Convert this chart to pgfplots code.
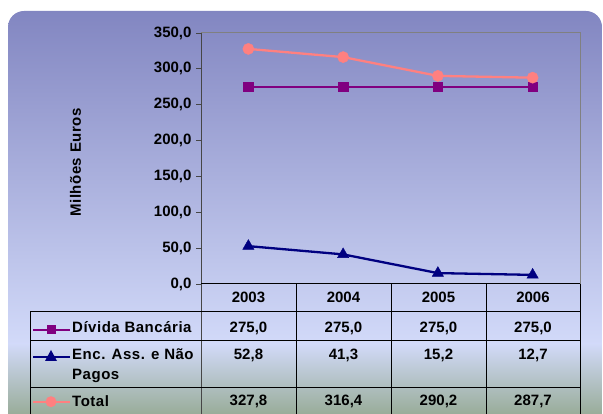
\documentclass[border=0pt]{standalone}
\usepackage{fontspec}
\setmainfont{Liberation Sans}
\newfontfamily\lbl[LetterSpace=3.5]{Liberation Sans}
\usepackage{pgfplots}
\pgfplotsset{compat=1.18}
\definecolor{divida}{RGB}{128,0,128}
\definecolor{enc}{RGB}{0,0,128}
\definecolor{total}{RGB}{255,128,128}
\definecolor{bgtop}{RGB}{130,134,193}
\definecolor{bgmid}{RGB}{210,218,249}
\definecolor{bgbot}{RGB}{152,172,152}
\definecolor{axgray}{RGB}{128,128,128}
\definecolor{axdark}{RGB}{70,70,70}
\begin{document}
\begin{tikzpicture}[x=1pt,y=1pt,
  tt/.style={font=\fontsize{15}{17}\selectfont\bfseries, inner sep=0pt},
  tl/.style={font=\fontsize{15}{17}\selectfont\lbl\bfseries, inner sep=0pt}]
\path[use as bounding box] (0,0) rectangle (603,414);
\begin{scope}
\clip[rounded corners=16pt] (8,-40) rectangle (602,403);
\shade[top color=bgtop, bottom color=bgmid] (0,70) rectangle (603,403);
\shade[top color=bgmid, bottom color=bgbot] (0,-1) rectangle (603,70.5);
\end{scope}
\begin{axis}[at={(201pt,130pt)}, anchor=south west, scale only axis,
  width=379pt, height=251pt,
  xmin=-0.5, xmax=3.5, ymin=0, ymax=350,
  ytick={0,50,...,350}, xtick=\empty,
  axis line style={draw=none},
  ytick pos=left, tick align=outside, major tick length=5pt,
  tick style={color=axdark, line width=0.8pt},
  yticklabel style={font=\fontsize{15}{17}\selectfont\bfseries, xshift=-1pt,
    /pgf/number format/.cd, fixed, fixed zerofill, precision=1, use comma,
    assume math mode=true},
  ylabel={Milhões Euros},
  ylabel style={at={(axis description cs:-0.331,0.484)}, anchor=center,
    font=\fontsize{15}{17}\selectfont\lbl\bfseries},
  clip=false]
\addplot[divida, line width=2.3pt, mark=square*, mark size=4.8pt,
  mark options={line width=0.4pt}]
  coordinates {(0,275.0) (1,275.0) (2,275.0) (3,275.0)};
\addplot[enc, line width=2.3pt, mark=triangle*, mark size=6.5pt,
  mark options={line width=0.4pt}]
  coordinates {(0,52.8) (1,41.3) (2,15.2) (3,12.7)};
\addplot[total, line width=2.3pt, mark=*, mark size=5.6pt,
  mark options={line width=0.4pt}]
  coordinates {(0,327.8) (1,316.4) (2,290.2) (3,287.7)};
\end{axis}
% plot frame
\draw[axgray, line width=1pt] (201,381) -- (580,381) -- (580,130);
\draw[axdark, line width=1pt] (201,381) -- (201,-5);
% table grid
\begin{scope}[line width=1pt, black]
\draw (201,130) -- (580,130);
\draw (30,102) -- (580,102);
\draw (30,73.3) -- (580,73.3);
\draw (30,26) -- (580,26);
\foreach \x in {296,391,486,580} \draw (\x,130) -- (\x,-5);
\draw (30,102) -- (30,-5);
\end{scope}
% header
\node[tt, anchor=base] at (248.5,111) {2003};
\node[tt, anchor=base] at (343.5,111) {2004};
\node[tt, anchor=base] at (438.5,111) {2005};
\node[tt, anchor=base] at (533,111) {2006};
% row 1
\draw[divida, line width=2pt] (33,84) -- (70,84);
\fill[divida] (46.5,79.5) rectangle (55.5,88.5);
\node[tl, anchor=base west] at (72,81) {Dívida Bancária};
\node[tt, anchor=base] at (248.5,81) {275,0};
\node[tt, anchor=base] at (343.5,81) {275,0};
\node[tt, anchor=base] at (438.5,81) {275,0};
\node[tt, anchor=base] at (533,81) {275,0};
% row 2
\draw[enc, line width=2pt] (33,57) -- (70,57);
\fill[enc] (45,53) -- (57,53) -- (51,64) -- cycle;
\node[tl, anchor=base west] at (72,54) {Enc. Ass. e Não};
\node[tl, anchor=base west] at (72,34) {Pagos};
\node[tt, anchor=base] at (248.5,54) {52,8};
\node[tt, anchor=base] at (343.5,54) {41,3};
\node[tt, anchor=base] at (438.5,54) {15,2};
\node[tt, anchor=base] at (533,54) {12,7};
% row 3
\draw[total, line width=2pt] (33,12.3) -- (70,12.3);
\fill[total] (51,12.3) circle (5.5);
\node[tl, anchor=base west] at (72,7) {Total};
\node[tt, anchor=base] at (248.5,8) {327,8};
\node[tt, anchor=base] at (343.5,8) {316,4};
\node[tt, anchor=base] at (438.5,8) {290,2};
\node[tt, anchor=base] at (533,8) {287,7};
\end{tikzpicture}
\end{document}
